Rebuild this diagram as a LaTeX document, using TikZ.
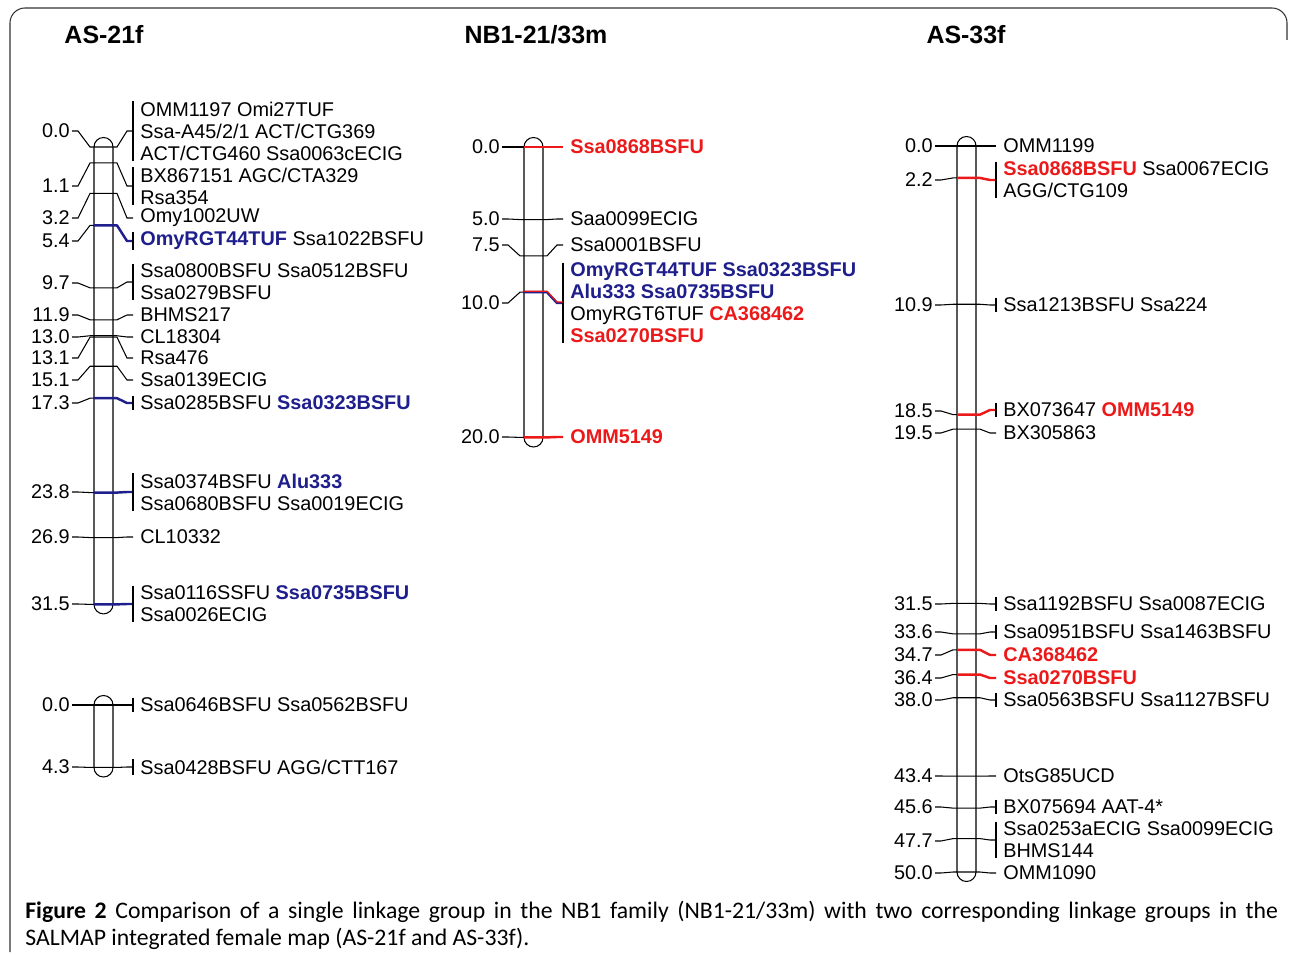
\documentclass[tikz,border=0pt]{standalone}
\usepackage{fontspec}
\setmainfont{Liberation Sans}
\newfontfamily\capfont{Carlito}
\definecolor{mblue}{RGB}{30,30,140}
\definecolor{mred}{RGB}{235,25,25}
\newcommand{\bl}[1]{\textcolor{mblue}{\bfseries #1}}
\newcommand{\rd}[1]{\textcolor{mred}{\bfseries #1}}
\tikzset{
  bar/.style={draw, line width=0.6pt, rounded corners=0.19cm},
  cmnum/.style={anchor=east, inner sep=0pt, font=\fontsize{11.3}{12.5}\selectfont},
  mname/.style={anchor=west, inner sep=0pt, align=left, font=\fontsize{11.3}{12.5}\selectfont},
  maptitle/.style={anchor=base, inner sep=0pt, font=\bfseries\fontsize{14.2}{16}\selectfont},
  thinl/.style={line width=0.6pt},
  blackm/.style={line width=0.6pt},
  bluem/.style={mblue, line width=1.4pt, line join=round},
  redm/.style={mred, line width=1.4pt, line join=round},
  grp/.style={line width=0.6pt},
  nogrp/.style={draw=none}
}
% #1 name, #2 bar left, #3 y of 0 cM, #4 cM, #5 y of number, #6 y of names, #7 names, #8 marker style, #9 group tick
\newcommand{\locus}[9]{%
  \coordinate (#1l) at ({#2},{#3+14.52*#4});
  \coordinate (#1r) at ({#2+19},{#3+14.52*#4});
  \coordinate (#1k) at ({#2+39},{#6});
  \node[cmnum] (#1n) at ({#2-24},{#5}) {#4};
  \node[mname] (#1t) at ({#2+46},{#6}) {#7};
  \draw[thinl] ([shift={(2,0)}]#1n.east) -- ([shift={(8,0)}]#1n.east) -- ([shift={(-4,0)}]#1l) -- (#1l);
  \draw[#8] (#1l) -- (#1r) -- ([shift={(4,0)}]#1r) -- ([shift={(-6,0)}]#1k) -- (#1k);
  \draw[#9] ([shift={(-7,0)}]#1t.north west) -- ([shift={(-7,0)}]#1t.south west);
}
\begin{document}
\begin{tikzpicture}[x=0.02cm, y=-0.02cm]
  \useasboundingbox (0,0) rectangle (1290,955);
  \draw[line width=0.6pt, black!80, rounded corners=0.3cm] (10,952) -- (10,8) -- (1287,8) -- (1287,40);

  \node[maptitle] (t1) at (104,44) {AS-21f};
  \node[maptitle] (t2) at (536,44) {NB1-21/33m};
  \node[maptitle] (t3) at (966,44) {AS-33f};

  % AS-21f
  \draw[bar] (94,137.5) rectangle (113,613.9);
  \locus{a1}{94}{147}{0.0}{131}{131}{OMM1197 Omi27TUF\\Ssa-A45/2/1 ACT/CTG369\\ACT/CTG460 Ssa0063cECIG}{blackm}{grp}
  \locus{a2}{94}{147}{1.1}{186}{186}{BX867151 AGC/CTA329\\Rsa354}{blackm}{grp}
  \locus{a3}{94}{147}{3.2}{218}{218}{Omy1002UW}{blackm}{nogrp}
  \locus{a4}{94}{147}{5.4}{241}{241}{\bl{OmyRGT44TUF} Ssa1022BSFU}{bluem}{grp}
  \locus{a5}{94}{147}{9.7}{283}{282}{Ssa0800BSFU Ssa0512BSFU\\Ssa0279BSFU}{blackm}{grp}
  \locus{a6}{94}{147}{11.9}{315}{315}{BHMS217}{blackm}{nogrp}
  \locus{a7}{94}{147}{13.0}{337}{337}{CL18304}{blackm}{nogrp}
  \locus{a8}{94}{147}{13.1}{358}{358}{Rsa476}{blackm}{nogrp}
  \locus{a9}{94}{147}{15.1}{380}{380}{Ssa0139ECIG}{blackm}{nogrp}
  \locus{a10}{94}{147}{17.3}{403}{403}{Ssa0285BSFU \bl{Ssa0323BSFU}}{bluem}{grp}
  \locus{a11}{94}{147}{23.8}{492}{492}{Ssa0374BSFU \bl{Alu333}\\Ssa0680BSFU Ssa0019ECIG}{bluem}{grp}
  \locus{a12}{94}{147}{26.9}{537}{537}{CL10332}{blackm}{nogrp}
  \locus{a13}{94}{147}{31.5}{604}{604}{Ssa0116SSFU \bl{Ssa0735BSFU}\\Ssa0026ECIG}{bluem}{grp}

  \draw[bar] (94,695.5) rectangle (113,777);
  \locus{b1}{94}{705}{0.0}{705}{705}{Ssa0646BSFU Ssa0562BSFU}{blackm}{grp}
  \locus{b2}{94}{705}{4.3}{767}{767}{Ssa0428BSFU AGG/CTT167}{blackm}{grp}

  % NB1-21/33m
  \draw[bar] (524,137.5) rectangle (543,447);
  \locus{c1}{524}{147}{0.0}{147}{147}{\rd{Ssa0868BSFU}}{redm}{nogrp}
  \locus{c2}{524}{147}{5.0}{219}{219}{Saa0099ECIG}{blackm}{nogrp}
  \locus{c3}{524}{147}{7.5}{245}{245}{Ssa0001BSFU}{blackm}{nogrp}
  \locus{c4}{524}{147}{10.0}{303}{303}{\bl{OmyRGT44TUF Ssa0323BSFU}\\\bl{Alu333 Ssa0735BSFU}\\OmyRGT6TUF \rd{CA368462}\\\rd{Ssa0270BSFU}}{bluem}{grp}
  \draw[mred, line width=0.7pt] ([shift={(0,-1)}]c4l) -- ([shift={(0,-1)}]c4r) -- ([shift={(4,-1)}]c4r) -- ([shift={(-6,-1)}]c4k) -- ([shift={(0,-1)}]c4k);
  \locus{c5}{524}{147}{20.0}{437}{437}{\rd{OMM5149}}{redm}{nogrp}

  % AS-33f
  \draw[bar] (957,136.5) rectangle (976,881.5);
  \locus{d1}{957}{146}{0.0}{146}{146}{OMM1199}{blackm}{nogrp}
  \locus{d2}{957}{146}{2.2}{180}{180}{\rd{Ssa0868BSFU} Ssa0067ECIG\\AGG/CTG109}{redm}{grp}
  \locus{d3}{957}{146}{10.9}{305}{305}{Ssa1213BSFU Ssa224}{blackm}{grp}
  \locus{d4}{957}{146}{18.5}{411}{410}{BX073647 \rd{OMM5149}}{redm}{grp}
  \locus{d5}{957}{146}{19.5}{433}{433}{BX305863}{blackm}{nogrp}
  \locus{d6}{957}{146}{31.5}{604}{604}{Ssa1192BSFU Ssa0087ECIG}{blackm}{grp}
  \locus{d7}{957}{146}{33.6}{632}{632}{Ssa0951BSFU Ssa1463BSFU}{blackm}{grp}
  \locus{d8}{957}{146}{34.7}{655}{655}{\rd{CA368462}}{redm}{nogrp}
  \locus{d9}{957}{146}{36.4}{678}{678}{\rd{Ssa0270BSFU}}{redm}{nogrp}
  \locus{d10}{957}{146}{38.0}{700}{700}{Ssa0563BSFU Ssa1127BSFU}{blackm}{grp}
  \locus{d11}{957}{146}{43.4}{776}{776}{OtsG85UCD}{blackm}{nogrp}
  \locus{d12}{957}{146}{45.6}{807}{807}{BX075694 AAT-4*}{blackm}{grp}
  \locus{d13}{957}{146}{47.7}{841}{840}{Ssa0253aECIG Ssa0099ECIG\\BHMS144}{blackm}{grp}
  \locus{d14}{957}{146}{50.0}{873}{873}{OMM1090}{blackm}{nogrp}

  \node[anchor=north west, inner sep=0pt, text width=25.06cm, align=justify,
        font=\capfont\fontsize{13.5}{15.3}\selectfont] (cap) at (25,901)
    {\textbf{Figure 2} Comparison of a single linkage group in the NB1 family (NB1-21/33m) with two corresponding linkage groups in the\linebreak SALMAP integrated female map (AS-21f and AS-33f).};
\end{tikzpicture}
\end{document}
